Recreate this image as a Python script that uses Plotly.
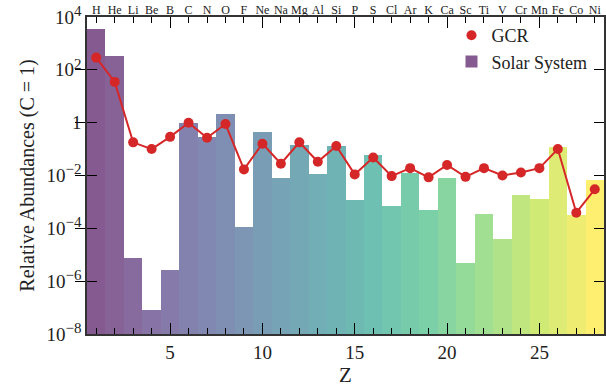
import plotly.graph_objects as go
from plotly.colors import sample_colorscale, unlabel_rgb

Z = list(range(1, 29))
elements = ["H", "He", "Li", "Be", "B", "C", "N", "O", "F", "Ne", "Na", "Mg", "Al", "Si",
            "P", "S", "Cl", "Ar", "K", "Ca", "Sc", "Ti", "V", "Cr", "Mn", "Fe", "Co", "Ni"]
solar = [3.5e3, 3.4e2, 7.6e-6, 8.1e-8, 2.6e-6, 1.0, 0.29, 2.1, 1.1e-4, 0.45,
         8.1e-3, 0.145, 1.1e-2, 0.13, 1.2e-3, 5.9e-2, 7.1e-4, 1.2e-2, 4.9e-4, 8.1e-3,
         4.9e-6, 3.5e-4, 4.0e-5, 1.8e-3, 1.3e-3, 0.12, 3.1e-4, 6.8e-3]
gcr = [2.9e2, 35, 0.18, 0.10, 0.29, 1.0, 0.27, 0.89, 1.7e-2, 0.16,
       2.8e-2, 0.18, 3.3e-2, 0.13, 1.1e-2, 4.8e-2, 9.5e-3, 1.9e-2, 8.5e-3, 2.5e-2,
       8.9e-3, 1.9e-2, 1.0e-2, 1.3e-2, 1.9e-2, 0.10, 3.9e-4, 3.0e-3]
ytick_exp = [-8, -6, -4, -2, 0, 2, 4]

n = len(Z)
cols = sample_colorscale("Viridis", [i / (n - 1) for i in range(n)])
bar_colors = []
for c in cols:
    r, g, b = unlabel_rgb(c)
    bar_colors.append(f"rgba({int(r)},{int(g)},{int(b)},0.65)")

def tlabel(e):
    if e == 0:
        return "1"
    s = str(e).replace("-", "\u2212")
    return f"10<sup><span style='font-size:15px'>{s}</span></sup>"

red = "#d62728"
fig = go.Figure()
fig.add_trace(go.Bar(x=Z, y=solar, marker=dict(color=bar_colors, line=dict(width=0)),
                     name="Solar System", legendrank=2, width=1.0))
fig.add_trace(go.Scatter(x=Z, y=gcr, mode="lines+markers", line=dict(color=red, width=2),
                         marker=dict(size=10, color=red), showlegend=False, name="GCR"))
fig.add_trace(go.Scatter(x=[None], y=[None], mode="markers", marker=dict(size=10, color=red),
                         name="GCR", legendrank=1, xaxis="x2"))

axcol = "#333"
fig.update_layout(
    width=606, height=387,
    margin=dict(l=87, r=0, t=17, b=53),
    plot_bgcolor="white", paper_bgcolor="white",
    bargap=0,
    font=dict(family="Liberation Serif", color="#222"),
    legend=dict(x=0.705, y=1.0, xanchor="left", yanchor="top", font=dict(size=18),
                bgcolor="rgba(0,0,0,0)", tracegroupgap=0),
    xaxis=dict(range=[0.5, 28.5], tickmode="linear", tick0=0, dtick=5,
               ticks="inside", ticklen=11, tickcolor="black", tickwidth=1,
               showline=True, linecolor=axcol, linewidth=1.5, mirror="allticks",
               minor=dict(dtick=1, tick0=0, ticks="inside", ticklen=6, tickcolor="black"),
               showgrid=False, zeroline=False,
               title=dict(text="Z", font=dict(size=21), standoff=4),
               tickfont=dict(size=19)),
    xaxis2=dict(overlaying="x", side="top", range=[0.5, 28.5], tickmode="array",
                tickvals=Z, ticktext=elements, ticks="inside", ticklen=6,
                tickcolor="black", showgrid=False, zeroline=False,
                tickfont=dict(size=12, color="#222")),
    yaxis=dict(type="log", range=[-8, 4], tickmode="array",
               tickvals=[10 ** e for e in ytick_exp], ticktext=[tlabel(e) for e in ytick_exp],
               ticks="inside", ticklen=10, tickcolor="black",
               showline=True, linecolor=axcol, linewidth=1.5, mirror="allticks",
               showgrid=False, zeroline=False,
               title=dict(text="Relative Abundances (C = 1)", font=dict(size=20), standoff=6),
               tickfont=dict(size=19)),
)
fig.write_html("out.html")
